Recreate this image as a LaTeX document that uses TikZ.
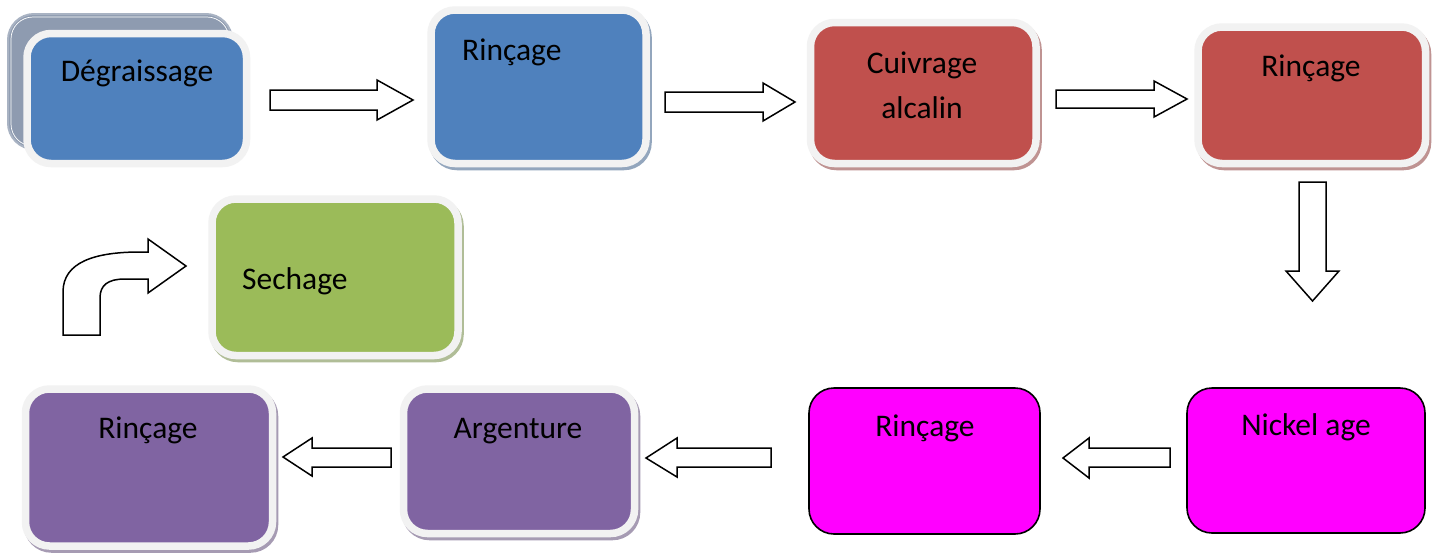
\documentclass[tikz,border=0pt]{standalone}
\usepackage{fontspec}
\setmainfont{Carlito}
\usetikzlibrary{calc}
\definecolor{cblue}{HTML}{4F81BD}
\definecolor{cred}{HTML}{C0504D}
\definecolor{cgreen}{HTML}{9BBB59}
\definecolor{cpurple}{HTML}{8064A2}
\definecolor{cmag}{HTML}{FF00FF}
\definecolor{rim}{HTML}{F2F2F2}
\definecolor{backgray}{HTML}{8E9BB0}
\definecolor{backrim}{HTML}{A9B3C3}
\tikzset{
  plainbox/.style={rectangle, rounded corners=24pt, draw=rim, line width=7.5pt, fill=#1, inner sep=0pt},
  box/.style={plainbox=#1,
    preaction={draw=#1!55!gray!70!white, fill=#1!55!gray!70!white, line width=7.5pt,
      transform canvas={shift={(2pt,-3pt)}}}},
  magbox/.style={rectangle, rounded corners=25pt, draw=black, line width=1.6pt, fill=cmag, inner sep=0pt},
  backbox/.style={rectangle, rounded corners=26pt, draw=backrim, line width=2pt, fill=backgray, inner sep=0pt},
  txt/.style={font=\fontsize{31.5}{44.7}\selectfont, inner sep=0pt, text=black},
  blockarr/.style={draw=black, fill=white, line width=1.5pt, line join=miter}
}
\begin{document}
\begin{tikzpicture}[x=1pt, y=-1pt]
\useasboundingbox[fill=white] (0,0) rectangle (1439,552);

% back box behind Degraissage
\node[backbox, minimum width=224pt, minimum height=135pt] (dg0) at (120,81.5) {};
\draw[white, line width=0.7pt, rounded corners=22pt] ($(dg0.north west)+(4,4)$) rectangle ($(dg0.south east)+(-4,-4)$);

% boxes
\node[plainbox=cblue, minimum width=219.5pt, minimum height=130pt] (dg) at (136.75,98.5) {};
\node[box=cblue, minimum width=215pt, minimum height=153.5pt] (r1) at (538.5,86.75) {};
\node[box=cred, minimum width=225.5pt, minimum height=141pt] (cu) at (923.25,93) {};
\node[box=cred, minimum width=227.5pt, minimum height=136.5pt] (r2) at (1311.75,95.25) {};
\node[box=cgreen, minimum width=246pt, minimum height=156.5pt] (se) at (335,277.25) {};
\node[box=cpurple, minimum width=247pt, minimum height=157pt] (r4) at (149,467.5) {};
\node[box=cpurple, minimum width=231pt, minimum height=144.5pt] (ar) at (519,461.25) {};
\node[magbox, minimum width=231pt, minimum height=146pt] (r3) at (924.5,461) {};
\node[magbox, minimum width=238pt, minimum height=145pt] (ni) at (1306,460.5) {};

% texts
\node[txt, anchor=base] (dgt) at (137,81.7) {Dégraissage};
\node[txt, anchor=base west] (r1t) at (462,60) {Rinçage};
\node[txt, anchor=base, align=center] (cut) at (922,118) {Cuivrage\\alcalin};
\node[txt, anchor=base] (r2t) at (1311,76) {Rinçage};
\node[txt, anchor=base west] (set) at (242,289) {Sechage};
\node[txt, anchor=base] (r4t) at (148,438) {Rinçage};
\node[txt, anchor=base] (art) at (518,438) {Argenture};
\node[txt, anchor=base] (r3t) at (925,436) {Rinçage};
\node[txt, anchor=base] (nit) at (1306,435) {Nickel age};

% block arrows
\draw[blockarr] (270,90) -- (377,90) -- (377,80) -- (413,100) -- (377,120) -- (377,110) -- (270,110) -- cycle;
\draw[blockarr] (665,92) -- (763,92) -- (763,83) -- (795,102) -- (763,121) -- (763,112) -- (665,112) -- cycle;
\draw[blockarr] (1056,90) -- (1154,90) -- (1154,81) -- (1187,99) -- (1154,117) -- (1154,108) -- (1056,108) -- cycle;
\draw[blockarr] (1299,182) -- (1326,182) -- (1326,271) -- (1339,271) -- (1312.5,301) -- (1286,271) -- (1299,271) -- cycle;
\draw[blockarr] (1170,448) -- (1089,448) -- (1089,438) -- (1063,458) -- (1089,478) -- (1089,467) -- (1170,467) -- cycle;
\draw[blockarr] (771,448) -- (677,448) -- (677,438) -- (646,458) -- (677,477) -- (677,467) -- (771,467) -- cycle;
\draw[blockarr] (391,448) -- (312,448) -- (312,438) -- (283,457) -- (312,476) -- (312,467) -- (391,467) -- cycle;
% bent-up arrow
\draw[blockarr] (63,335) -- (63,292) .. controls (63,262) and (95,252) .. (140,252) -- (148,252) -- (148,239) -- (186,266) -- (148,293) -- (148,279) -- (125,279) .. controls (108,279) and (100,285) .. (100,298) -- (100,335) -- cycle;
\end{tikzpicture}
\end{document}
